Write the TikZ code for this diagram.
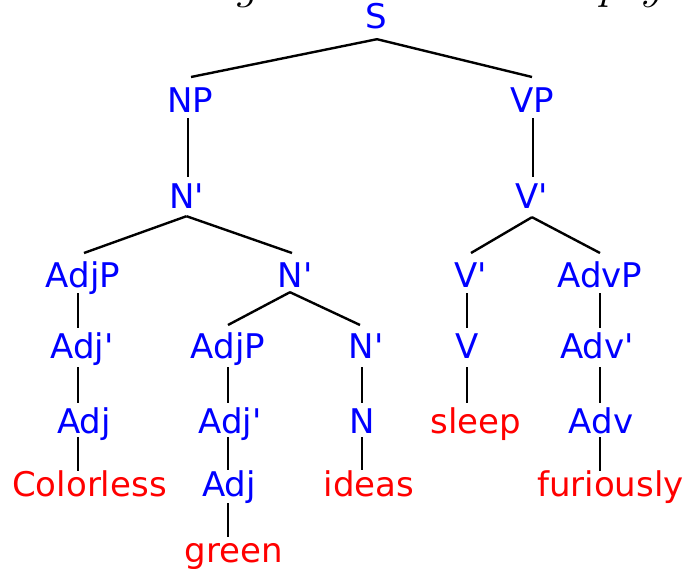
\RequirePackage{fix-cm}
\documentclass[tikz,border=0pt]{standalone}
\usepackage{fontspec}
\usetikzlibrary{calc}
\newfontfamily\dejavu{DejaVu Sans}
\begin{document}
\begin{tikzpicture}[x=1pt,y=-1pt,
  lab/.style={font=\dejavu\fontsize{34}{40}\selectfont, text=blue, anchor=base,
              inner sep=0pt, text height=24.8pt, text depth=0pt},
  leaf/.style={lab, text=red},
  edge/.style={line width=2.4pt, black},
  ttl/.style={font=\fontsize{46}{50}\selectfont, anchor=base, inner sep=0pt}]
\useasboundingbox (0,0) rectangle (687,569);
\clip (0,0) rectangle (687,569);

% cropped title fragments at the top edge
\node[ttl] (t1) at (248,-1) {$g$};
\node[ttl] (t2) at (611,-1) {$p$};
\node[ttl] (t3) at (653,-1) {$y$};

% column x positions for vertical connectors
\coordinate (cNP) at (188,0);
\coordinate (cVP) at (533,0);
\coordinate (c1) at (78,0);
\coordinate (c2) at (228,0);
\coordinate (c3) at (362,0);
\coordinate (c4) at (467,0);
\coordinate (c5) at (600,0);

% nodes
\node[lab] (S) at (376,29) {S};
\node[lab] (NP) at (190,113) {NP};
\node[lab] (VP) at (532,113) {VP};
\node[lab] (Nb1) at (186.5,208) {N'};
\node[lab] (Vb1) at (532,208) {V'};
\node[lab] (AdjP1) at (83,287) {AdjP};
\node[lab] (Nb2) at (295,287) {N'};
\node[lab] (Vb2) at (471,287) {V'};
\node[lab] (AdvP) at (600,287) {AdvP};
\node[lab] (Adjb1) at (82,358) {Adj'};
\node[lab] (AdjP2) at (228,358) {AdjP};
\node[lab] (Nb3) at (366,358) {N'};
\node[lab] (V) at (467,358) {V};
\node[lab] (Advb) at (597,358) {Adv'};
\node[lab] (Adj1) at (84,433) {Adj};
\node[lab] (Adjb2) at (230,433) {Adj'};
\node[lab] (N) at (362,433) {N};
\node[leaf] (sleep) at (476,433) {sleep};
\node[lab] (Adv) at (601,433) {Adv};
\node[leaf] (colorless) at (89.5,496) {Colorless};
\node[lab] (Adj2) at (229,496) {Adj};
\node[leaf] (ideas) at (369,496) {ideas};
\node[leaf] (furiously) at (610.5,496) {furiously};
\node[leaf] (green) at (234,562) {green};

% diagonal connectors
\draw[edge] ($(S.south)+(1,10)$) -- ($(NP.north)+(1,-11)$);
\draw[edge] ($(S.south)+(1,10)$) -- ($(VP.north)+(0,-11)$);
\draw[edge] ($(Nb1.south)+(0,8)$) -- ($(AdjP1.north)+(1,-9)$);
\draw[edge] ($(Nb1.south)+(0,8)$) -- ($(Nb2.north)+(-3,-9)$);
\draw[edge] ($(Nb2.south)+(-5,5)$) -- ($(AdjP2.north)+(0,-8)$);
\draw[edge] ($(Nb2.south)+(-5,5)$) -- ($(Nb3.north)+(-6,-8)$);
\draw[edge] ($(Vb1.south)+(0,9)$) -- ($(Vb2.north)+(0,-9)$);
\draw[edge] ($(Vb1.south)+(0,9)$) -- ($(AdvP.north)+(0,-9)$);

% vertical connectors
\draw[edge] ($(NP.south -| cNP)+(0,5)$) -- ($(Nb1.north -| cNP)+(0,-6)$);
\draw[edge] ($(VP.south -| cVP)+(0,5)$) -- ($(Vb1.north -| cVP)+(0,-6)$);
\draw[edge] ($(AdjP1.south -| c1)+(0,6)$) -- ($(Adjb1.north -| c1)+(0,-5)$);
\draw[edge] ($(Adjb1.south -| c1)+(0,9)$) -- ($(Adj1.north -| c1)+(0,-5)$);
\draw[edge] ($(Adj1.south -| c1)+(0,4)$) -- ($(colorless.north -| c1)+(0,-0.5)$);
\draw[edge] ($(AdjP2.south -| c2)+(0,9)$) -- ($(Adjb2.north -| c2)+(0,-5)$);
\draw[edge] ($(Adjb2.south -| c2)+(0,4)$) -- ($(Adj2.north -| c2)+(0,-1.5)$);
\draw[edge] ($(Adj2.south -| c2)+(0,7)$) -- ($(green.north -| c2)+(0,0)$);
\draw[edge] ($(Nb3.south -| c3)+(0,9)$) -- ($(N.north -| c3)+(0,-5)$);
\draw[edge] ($(N.south -| c3)+(0,4)$) -- ($(ideas.north -| c3)+(0,-1.5)$);
\draw[edge] ($(Vb2.south -| c4)+(0,6)$) -- ($(V.north -| c4)+(0,-5)$);
\draw[edge] ($(V.south -| c4)+(0,9)$) -- ($(sleep.north -| c4)+(0,-5)$);
\draw[edge] ($(AdvP.south -| c5)+(0,6)$) -- ($(Advb.north -| c5)+(0,-5)$);
\draw[edge] ($(Advb.south -| c5)+(0,9)$) -- ($(Adv.north -| c5)+(0,-5)$);
\draw[edge] ($(Adv.south -| c5)+(0,4)$) -- ($(furiously.north -| c5)+(0,-0.5)$);
\end{tikzpicture}
\end{document}
